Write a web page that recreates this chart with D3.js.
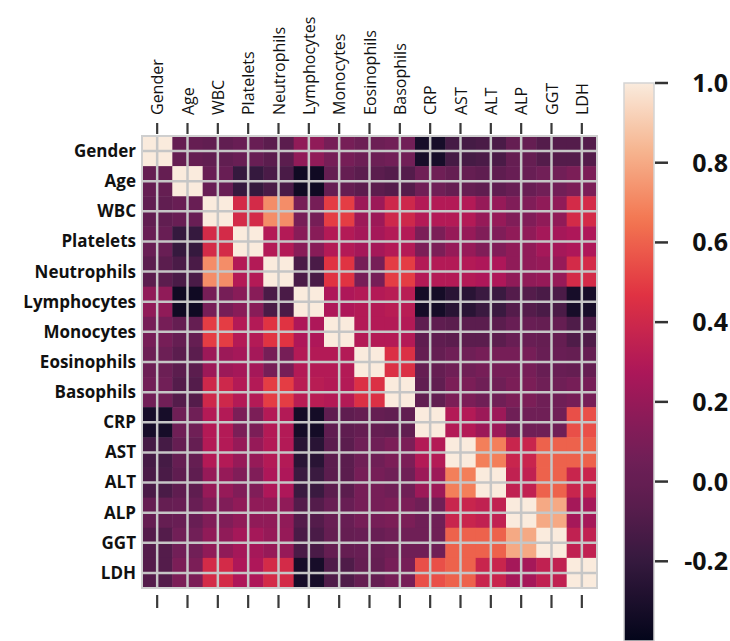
<!DOCTYPE html>
<html>
<head>
<meta charset="utf-8">
<script src="https://cdn.jsdelivr.net/npm/d3@7"></script>
<style>
	body { margin: 0; background: #fff; }
	svg { display: block; }
</style>
</head>
<body>
<div id="chart"></div>
<script>
/* Variable names, same order for rows and columns */
var labels = ["Gender", "Age", "WBC", "Platelets", "Neutrophils", "Lymphocytes", "Monocytes",
	"Eosinophils", "Basophils", "CRP", "AST", "ALT", "ALP", "GGT", "LDH"];

/* Correlation rows */
var gender      = [1, 0.0, -0.02, 0.02, -0.05, 0.18, 0.08, 0.04, 0.06, -0.32, -0.14, -0.12, 0.0, -0.08, -0.08];
var age         = [0.0, 1, 0.02, -0.2, -0.12, -0.35, 0.0, -0.05, -0.08, 0.05, 0.0, -0.03, 0.02, 0.06, 0.1];
var wbc         = [-0.02, 0.02, 1, 0.42, 0.72, 0.08, 0.5, 0.22, 0.4, 0.3, 0.3, 0.2, 0.12, 0.18, 0.42];
var platelets   = [0.02, -0.2, 0.42, 1, 0.3, 0.15, 0.3, 0.25, 0.3, 0.1, 0.2, 0.12, 0.18, 0.25, 0.28];
var neutrophils = [-0.05, -0.12, 0.72, 0.3, 1, -0.12, 0.47, 0.08, 0.5, 0.3, 0.3, 0.28, 0.18, 0.2, 0.42];
var lymphocytes = [0.18, -0.35, 0.08, 0.15, -0.12, 1, 0.28, 0.3, 0.32, -0.33, -0.25, -0.18, -0.08, -0.12, -0.32];
var monocytes   = [0.08, 0.0, 0.5, 0.3, 0.47, 0.28, 1, 0.3, 0.3, -0.03, -0.05, -0.05, 0.02, 0.0, -0.1];
var eosinophils = [0.04, -0.05, 0.22, 0.25, 0.08, 0.3, 0.3, 1, 0.45, 0.0, 0.05, 0.08, 0.08, 0.02, 0.0];
var basophils   = [0.06, -0.08, 0.4, 0.3, 0.5, 0.32, 0.3, 0.45, 1, -0.02, 0.1, 0.05, 0.1, 0.05, 0.08];
var crp         = [-0.32, 0.05, 0.3, 0.1, 0.3, -0.33, -0.03, 0.0, -0.02, 1, 0.3, 0.22, 0.05, 0.05, 0.55];
var ast         = [-0.14, 0.0, 0.3, 0.2, 0.3, -0.25, -0.05, 0.05, 0.1, 0.3, 1, 0.68, 0.38, 0.6, 0.6];
var alt         = [-0.12, -0.03, 0.2, 0.12, 0.28, -0.18, -0.05, 0.08, 0.05, 0.22, 0.68, 1, 0.35, 0.6, 0.38];
var alp         = [0.0, 0.02, 0.12, 0.18, 0.18, -0.08, 0.02, 0.08, 0.1, 0.05, 0.38, 0.35, 1, 0.8, 0.25];
var ggt         = [-0.08, 0.06, 0.18, 0.25, 0.2, -0.12, 0.0, 0.02, 0.05, 0.05, 0.6, 0.6, 0.8, 1, 0.35];
var ldh         = [-0.08, 0.1, 0.42, 0.28, 0.42, -0.32, -0.1, 0.0, 0.08, 0.55, 0.6, 0.38, 0.25, 0.35, 1];

var corrRows = [gender, age, wbc, platelets, neutrophils, lymphocytes, monocytes,
	eosinophils, basophils, crp, ast, alt, alp, ggt, ldh];

/* Colour bar ticks and range */
var cbarTicks = [-0.2, 0.0, 0.2, 0.4, 0.6, 0.8, 1.0];
var vmin = -0.4, vmax = 1.0;

var width = 730, height = 641;

var svg = d3.select("#chart").append("svg")
	.attr("width", width)
	.attr("height", height);

/* seaborn "rocket" colormap, piecewise linear, slightly darkened like the scan */
var rocketStops = ["#03051a", "#35193e", "#701f57", "#ad1759", "#e13342", "#f37651", "#f6b48f", "#faebdd"];
var rocket = d3.scaleLinear()
	.domain(rocketStops.map(function(d, i){ return i / (rocketStops.length - 1); }))
	.range(rocketStops)
	.interpolate(d3.interpolateRgb)
	.clamp(true);
var norm = d3.scalePow().exponent(1.15).domain([vmin, vmax]).range([0, 1]).clamp(true);
function color(v){ return rocket(norm(v)); }

var x = d3.scaleBand().domain(labels).range([142, 597]);
var y = d3.scaleBand().domain(labels).range([136, 588]);

/* Flatten rows into cells */
var cells = [];
corrRows.forEach(function(row, i){
	row.forEach(function(v, j){
		cells.push({row: labels[i], col: labels[j], value: v});
	});
});

svg.append("g").selectAll("rect")
	.data(cells)
	.enter()
	.append("rect")
	.attr("x", function(d){ return x(d.col); })
	.attr("y", function(d){ return y(d.row); })
	.attr("width", x.bandwidth() + 0.5)
	.attr("height", y.bandwidth() + 0.5)
	.attr("fill", function(d){ return color(d.value); });

/* Grid lines through the cell centres */
var grid = svg.append("g").attr("stroke", "#c6c6c6").attr("stroke-width", 2.5);
labels.forEach(function(l){
	var cx = x(l) + x.bandwidth() / 2;
	var cy = y(l) + y.bandwidth() / 2;
	grid.append("line").attr("x1", cx).attr("x2", cx).attr("y1", 136).attr("y2", 588);
	grid.append("line").attr("y1", cy).attr("y2", cy).attr("x1", 142).attr("x2", 597);
});
svg.append("rect")
	.attr("x", 142).attr("y", 136)
	.attr("width", 455).attr("height", 452)
	.attr("fill", "none")
	.attr("stroke", "#cfcfcf")
	.attr("stroke-width", 2);

/* Tick marks top and bottom */
var ticks = svg.append("g").attr("stroke", "#3a3a3a").attr("stroke-width", 2.2);
labels.forEach(function(l){
	var cx = x(l) + x.bandwidth() / 2;
	ticks.append("line").attr("x1", cx).attr("x2", cx).attr("y1", 123).attr("y2", 134);
	ticks.append("line").attr("x1", cx).attr("x2", cx).attr("y1", 595).attr("y2", 608);
});

/* Column labels, rotated */
svg.append("g").selectAll("text")
	.data(labels)
	.enter()
	.append("text")
	.attr("transform", function(d){
		return "translate(" + (x(d) + x.bandwidth() / 2 + 6) + ",115) rotate(-90)";
	})
	.attr("font-family", "'Open Sans', sans-serif")
	.attr("font-size", 16)
	.attr("fill", "#111")
	.text(function(d){ return d; });

/* Row labels, bold */
svg.append("g").selectAll("text")
	.data(labels)
	.enter()
	.append("text")
	.attr("x", 136)
	.attr("y", function(d){ return y(d) + y.bandwidth() / 2; })
	.attr("dy", "0.35em")
	.attr("text-anchor", "end")
	.attr("font-family", "'Open Sans', sans-serif")
	.attr("font-weight", "bold")
	.attr("font-size", 17)
	.attr("fill", "#111")
	.text(function(d){ return d; });

/* Colour bar */
var cbTop = 83, cbBottom = 641;
var cbScale = d3.scaleLinear().domain([vmin, vmax]).range([cbBottom, cbTop]);

var grad = svg.append("defs").append("linearGradient")
	.attr("id", "cbar")
	.attr("x1", "0").attr("y1", "1").attr("x2", "0").attr("y2", "0");
d3.range(0, 1.001, 0.02).forEach(function(t){
	grad.append("stop")
		.attr("offset", t)
		.attr("stop-color", color(vmin + (vmax - vmin) * t));
});

svg.append("rect")
	.attr("x", 624).attr("y", cbTop)
	.attr("width", 30).attr("height", cbBottom - cbTop)
	.attr("fill", "url(#cbar)")
	.attr("stroke", "#d4d4d4")
	.attr("stroke-width", 1.5);

var cbAxis = svg.append("g");
cbAxis.selectAll("line")
	.data(cbarTicks)
	.enter()
	.append("line")
	.attr("x1", 655).attr("x2", 668)
	.attr("y1", function(d){ return cbScale(d); })
	.attr("y2", function(d){ return cbScale(d); })
	.attr("stroke", "#333")
	.attr("stroke-width", 2.5);

cbAxis.selectAll("text")
	.data(cbarTicks)
	.enter()
	.append("text")
	.attr("x", 728)
	.attr("y", function(d){ return cbScale(d); })
	.attr("dy", "0.36em")
	.attr("text-anchor", "end")
	.attr("font-family", "'Open Sans', sans-serif")
	.attr("font-weight", "bold")
	.attr("font-size", 25)
	.attr("fill", "#111")
	.text(function(d){ return d.toFixed(1); });
</script>
</body>
</html>
